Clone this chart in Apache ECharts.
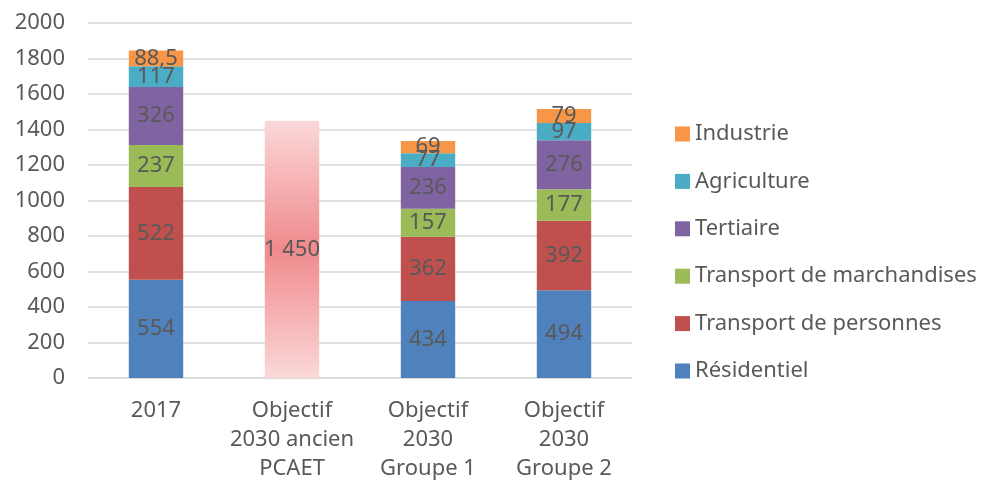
<!DOCTYPE html>
<html>
<head>
<meta charset="utf-8">
<script src="https://cdn.jsdelivr.net/npm/echarts@6/dist/echarts.min.js"></script>
<style>
  html, body { margin: 0; padding: 0; background: #fff; }
  #chart { width: 984px; height: 486px; }
</style>
</head>
<body>
<div id="chart"></div>
<script>
const categories = ['2017', 'Objectif\n2030 ancien\nPCAET', 'Objectif\n2030\nGroupe 1', 'Objectif\n2030\nGroupe 2'];
const residentiel = [554, '-', 434, 494];
const transportPersonnes = [522, '-', 362, 392];
const transportMarchandises = [237, '-', 157, 177];
const tertiaire = [326, '-', 236, 276];
const agriculture = [117, '-', 77, 97];
const industrie = [88.5, '-', 69, 79];
const objectifAncien = ['-', 1450, '-', '-'];
const yTicks = { min: 0, max: 2000, interval: 200 };

const textColor = '#595959';
const font = '"Noto Sans", sans-serif';

// Format des nombres à la française : virgule décimale, espace des milliers
const frNum = v => {
    const s = String(v).replace('.', ',');
    return s.replace(/\B(?=(\d{3})+(?!\d))/g, ' ');
};

const labelStyle = {
    show: true,
    position: 'inside',
    color: textColor,
    fontFamily: font,
    fontSize: 22,
    formatter: p => frNum(p.value)
};

const stacked = (name, data, color) => ({
    name,
    type: 'bar',
    stack: 'total',
    barWidth: '40%',
    data,
    itemStyle: { color },
    label: labelStyle
});

const chart = echarts.init(document.getElementById('chart'));

chart.setOption({
    animation: false,
    textStyle: { fontFamily: font },
    grid: { left: 88, right: 352, top: 23, bottom: 108 },
    legend: {
        orient: 'vertical',
        left: 670,
        top: 118,
        itemWidth: 15,
        itemHeight: 15,
        itemGap: 25.4,
        icon: 'rect',
        textStyle: { color: textColor, fontSize: 22, lineHeight: 22, fontFamily: font },
        data: ['Industrie', 'Agriculture', 'Tertiaire', 'Transport de marchandises', 'Transport de personnes', 'Résidentiel']
    },
    xAxis: {
        type: 'category',
        data: categories,
        axisLine: { lineStyle: { color: '#d9d9d9', width: 1.5 } },
        axisTick: { show: false },
        axisLabel: {
            color: textColor,
            fontSize: 22,
            lineHeight: 29,
            margin: 18,
            interval: 0,
            fontFamily: font
        }
    },
    yAxis: {
        type: 'value',
        min: yTicks.min,
        max: yTicks.max,
        interval: yTicks.interval,
        axisLine: { show: false },
        axisTick: { show: false },
        splitLine: { lineStyle: { color: '#d9d9d9', width: 1.5 } },
        axisLabel: {
            color: textColor,
            fontSize: 22,
            margin: 23,
            fontFamily: font,
            formatter: v => String(v)
        }
    },
    series: [
        stacked('Résidentiel', residentiel, '#4f81bd'),
        stacked('Transport de personnes', transportPersonnes, '#c0504d'),
        stacked('Transport de marchandises', transportMarchandises, '#9bbb59'),
        stacked('Tertiaire', tertiaire, '#8064a2'),
        stacked('Agriculture', agriculture, '#4bacc6'),
        stacked('Industrie', industrie, '#f79646'),
        {
            name: 'Objectif 2030 ancien PCAET',
            type: 'bar',
            stack: 'total',
            barWidth: '40%',
            data: objectifAncien,
            itemStyle: {
                color: new echarts.graphic.LinearGradient(0, 0, 0, 1, [
                    { offset: 0, color: '#fbd8d8' },
                    { offset: 0.5, color: '#f08a8c' },
                    { offset: 1, color: '#fbd8d8' }
                ])
            },
            label: labelStyle
        }
    ]
});
</script>
</body>
</html>
